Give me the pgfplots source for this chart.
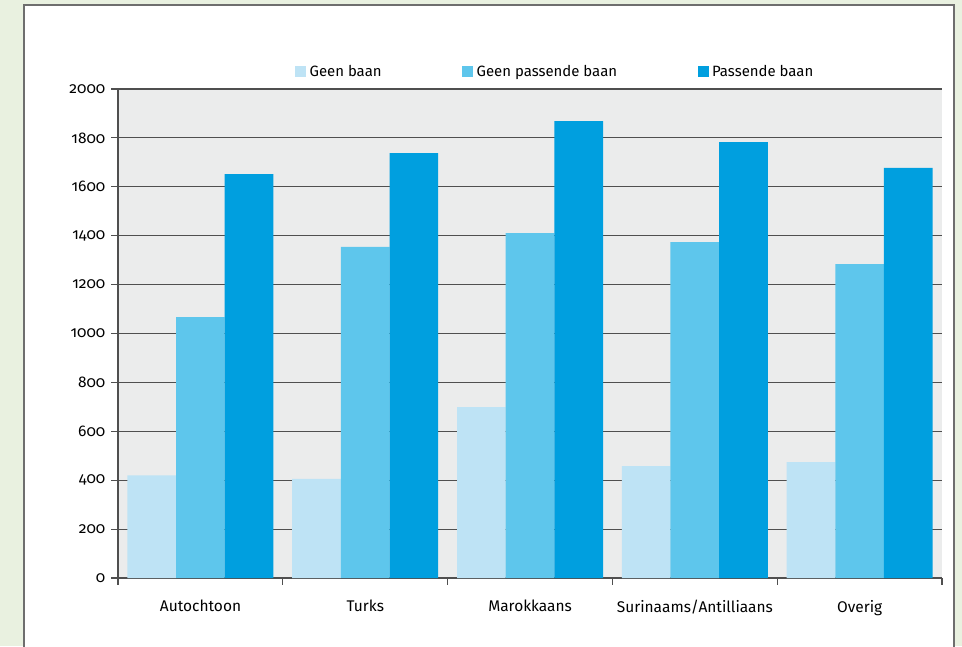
\documentclass[border=0pt]{standalone}
\usepackage{pgfplots}
\pgfplotsset{compat=1.18}
\usepackage{fontspec}
\setmainfont{Fira Sans}[Numbers={OldStyle,Proportional}]

\definecolor{bgGreen}{HTML}{E9F1E0}
\definecolor{frameGray}{HTML}{6E6E6E}
\definecolor{plotGray}{HTML}{EBECEC}
\definecolor{gridGray}{HTML}{4F4F4F}
\definecolor{cLight}{HTML}{BEE3F5}
\definecolor{cMid}{HTML}{5EC6EC}
\definecolor{cDark}{HTML}{009FDF}

\begin{document}
\begin{tikzpicture}
% page = 962 x 646 px, 1px = 0.75pt, axis origin at px (118,578)
\useasboundingbox (-88.5pt,-51pt) rectangle (633pt,433.5pt);
\begin{scope}[x=0.75pt,y=-0.75pt,shift={(-118,-578)}]
  \fill[bgGreen] (0,0) rectangle (962,646);
  \filldraw[fill=white, draw=frameGray, line width=1.2pt] (24,5) rectangle (954,670);
\end{scope}
\begin{axis}[
    at={(0pt,0pt)}, anchor=south west,
    scale only axis, width=618pt, height=366.75pt,
    font=\fontsize{11.6}{13}\selectfont,
    /pgf/number format/assume math mode=true,
    /pgf/number format/1000 sep={},
    ybar=0pt, bar width=36.5pt,
    xmin=-0.5, xmax=4.5, ymin=0, ymax=2000,
    xtick={-0.5,0.5,...,4.5},
    xticklabels={Autochtoon,Turks,Marokkaans,Surinaams/Antilliaans,Overig,},
    xticklabel style={xshift=61.875pt, yshift=-8pt},
    ytick={0,200,...,2000},
    yticklabel style={xshift=-1pt},
    ymajorgrids,
    major grid style={line width=0.9pt, color=gridGray},
    axis x line*=bottom, axis y line*=left,
    axis line style={line width=0.9pt, color=gridGray, -},
    tick style={line width=0.9pt, color=gridGray},
    tick align=outside, tick pos=left,
    major tick length=5pt,
    axis background/.style={fill=plotGray},
    legend columns=3,
    legend cell align=left,
    legend style={draw=none, fill=none, inner sep=0pt,
        at={(0.2148,1)}, anchor=west, yshift=12.75pt,
        font=\fontsize{11.2}{13}\selectfont,
        /tikz/every even column/.append style={column sep=58.5pt},
        /tikz/every odd column/.append style={column sep=0.5pt}},
    legend image code/.code={\fill[#1] (0pt,-4.1pt) rectangle (8.25pt,4.15pt);},
    ]
    \addplot[draw=none, fill=cLight] coordinates {(0,420) (1,405) (2,699) (3,458) (4,474)};
    \addplot[draw=none, fill=cMid] coordinates {(0,1067) (1,1354) (2,1411) (3,1374) (4,1284)};
    \addplot[draw=none, fill=cDark] coordinates {(0,1652) (1,1738) (2,1869) (3,1783) (4,1677)};
    \legend{Geen baan, Geen passende baan, Passende baan}
\end{axis}
\end{tikzpicture}
\end{document}
